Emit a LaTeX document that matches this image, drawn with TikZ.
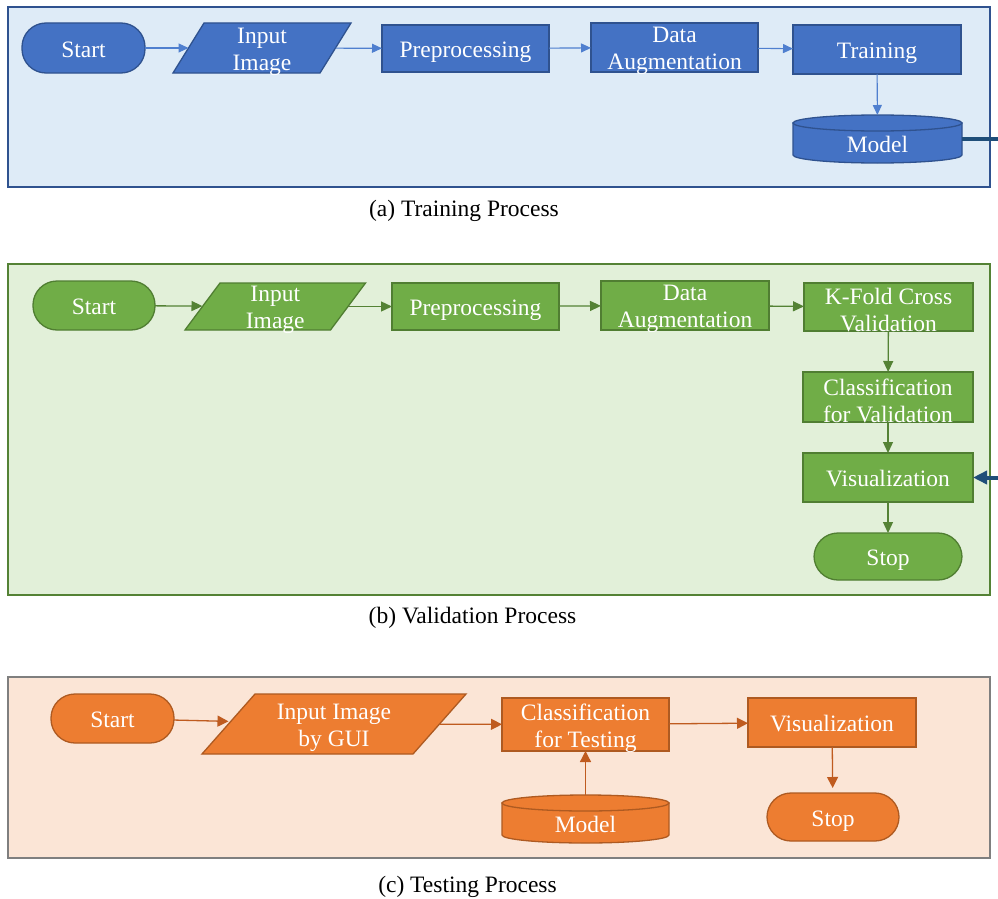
\documentclass[tikz,border=0pt]{standalone}
\usepackage{fontspec}
\setmainfont{Liberation Serif}
\usetikzlibrary{arrows.meta,calc}
\definecolor{bfill}{HTML}{4472C4}
\definecolor{bline}{HTML}{2F528F}
\definecolor{bpan}{HTML}{DEEBF7}
\definecolor{barr}{HTML}{4F7FCF}
\definecolor{gfill}{HTML}{70AD47}
\definecolor{gline}{HTML}{507E32}
\definecolor{gpan}{HTML}{E2F0D9}
\definecolor{garr}{HTML}{548235}
\definecolor{ofill}{HTML}{ED7D31}
\definecolor{oline}{HTML}{AE5A21}
\definecolor{opan}{HTML}{FBE5D6}
\definecolor{oarr}{HTML}{BF5B1F}
\definecolor{pgray}{HTML}{7F7F7F}
\definecolor{thkc}{HTML}{1F4E79}
\begin{document}
\begin{tikzpicture}[x=1pt,y=-1pt,
  lbl/.style={font=\fontsize{23.5}{27}\selectfont, text=white, align=center, inner sep=0pt, text height=22pt, text depth=4pt},
  lbltwo/.style={font=\fontsize{23.5}{27}\selectfont, text=white, align=center, inner sep=0pt, yshift=-3.5pt},
  captxt/.style={font=\fontsize{23.5}{27}\selectfont, text=black, inner sep=0pt, anchor=base},
  nd/.style={inner sep=0pt, outer sep=0pt, line width=1.3pt},
  blu/.style={nd, fill=bfill, draw=bline},
  grn/.style={nd, fill=gfill, draw=gline},
  org/.style={nd, fill=ofill, draw=oline},
  stad/.style={rounded corners=24pt},
  sz/.style 2 args={minimum width=#1, minimum height=#2},
  ghost/.style 2 args={inner sep=0pt, outer sep=0pt, minimum width=#1, minimum height=#2},
  txt/.style={label={[lbl]center:{#1}}},
  txttwo/.style={label={[lbltwo]center:{#1}}},
  arA/.style={draw=barr, line width=1.1pt, -{Triangle[length=10pt,width=9pt]}},
  arB/.style={draw=garr, line width=1.3pt, -{Triangle[length=11pt,width=10pt]}},
  arC/.style={draw=oarr, line width=1.3pt, -{Triangle[length=11pt,width=11pt]}},
  thk/.style={draw=thkc, line width=4pt},
  panA/.style={fill=bpan, draw=bline, line width=1.5pt},
  panB/.style={fill=gpan, draw=garr, line width=1.5pt},
  panC/.style={fill=opan, draw=pgray, line width=1.5pt}
]
\useasboundingbox (0,0) rectangle (998,899);
% ---------------- panel (a)
\draw[panA] (8,7) rectangle (990,187);
\node[blu, stad, sz={123}{50}, txt=Start] (sa) at (83.5,48) {};
\node[ghost={147}{50}] (ia) at (262,48) {};
\path[blu] ($(ia.north west)+(15.5,0)$) -- ($(ia.north east)+(15.5,0)$) -- ($(ia.south east)+(-15.5,0)$) -- ($(ia.south west)+(-15.5,0)$) -- cycle;
\node[lbltwo] (ia-t) at (ia) {Input\\Image};
\node[blu, sz={167}{47}, txt=Preprocessing] (pa) at (465.5,48.5) {};
\node[blu, sz={167}{49}, txttwo={Data\\Augmentation}] (da) at (674.5,47.5) {};
\node[blu, sz={168}{49}, txt=Training] (ta) at (877,49.5) {};
\node[ghost={169}{48}] (ma) at (877.5,139) {};
\path[blu] ($(ma.north west)+(0,8)$) -- ($(ma.south west)+(0,-8)$) arc[start angle=180,end angle=360,x radius=84.5pt,y radius=8pt] -- ($(ma.north east)+(0,8)$) -- cycle;
\path[blu] ($(ma.north)+(0,8)$) ellipse[x radius=84.5pt,y radius=8pt];
\node[lbl] (ma-t) at ($(ma.center)+(0,4)$) {Model};
\draw[arA] (sa) -- (ia);
\draw[arA] (ia) -- (pa);
\draw[arA] (pa) -- (da);
\draw[arA] (da) -- (ta);
\draw[arA] (ta) -- (ma);
\coordinate (oa) at (998,139);
\draw[thk] (ma.east) -- (oa);
\node[captxt] (capa) at (464,216) {(a) Training Process};
% ---------------- panel (b)
\draw[panB] (8,264) rectangle (990,595);
\node[grn, stad, sz={122}{49}, txt=Start] (sb) at (94,305.5) {};
\node[ghost={145.5}{47}] (ib) at (275.25,306.5) {};
\path[grn] ($(ib.north west)+(17.5,0)$) -- ($(ib.north east)+(17.5,0)$) -- ($(ib.south east)+(-17.5,0)$) -- ($(ib.south west)+(-17.5,0)$) -- cycle;
\node[lbltwo] (ib-t) at (ib) {Input\\Image};
\node[grn, sz={167}{47}, txt=Preprocessing] (pb) at (475.5,306.5) {};
\node[grn, sz={168}{49}, txttwo={Data\\Augmentation}] (db) at (685,305.5) {};
\node[grn, sz={169}{48}, txttwo={K-Fold Cross\\Validation}] (kb) at (888.5,307) {};
\node[grn, sz={170}{50}, txttwo={Classification\\for Validation}] (cb) at (888,397) {};
\node[grn, sz={170}{49}, txt=Visualization] (vb) at (888,477.5) {};
\node[grn, stad, sz={148}{47}, txt=Stop] (tb) at (888,556.5) {};
\draw[arB] (sb) -- (ib);
\draw[arB] (ib) -- (pb);
\draw[arB] (pb) -- (db);
\draw[arB] (db) -- (kb);
\draw[arB] (kb) -- (cb);
\draw[arB] (cb) -- (vb);
\draw[arB] (vb) -- (tb);
\coordinate (ob) at (998,477.5);
\draw[thk, -{Triangle[length=14pt,width=13pt]}] (ob) -- (vb.east);
\node[captxt] (capb) at (472.5,623) {(b) Validation Process};
% ---------------- panel (c)
\draw[panC] (8,677) rectangle (990,858);
\node[org, stad, sz={123}{49}, txt=Start] (sc) at (112.5,718.5) {};
\node[ghost={211}{60}] (ic) at (334,724) {};
\path[org] ($(ic.north west)+(26.5,0)$) -- ($(ic.north east)+(26.5,0)$) -- ($(ic.south east)+(-26.5,0)$) -- ($(ic.south west)+(-26.5,0)$) -- cycle;
\node[lbltwo] (ic-t) at (ic) {Input Image\\by GUI};
\node[org, sz={167}{53}, txttwo={Classification\\for Testing}] (cc) at (585.5,724.5) {};
\node[org, sz={168}{49}, txt=Visualization] (vc) at (832,722.5) {};
\node[ghost={167}{48}] (mc) at (585.5,819) {};
\path[org] ($(mc.north west)+(0,8)$) -- ($(mc.south west)+(0,-8)$) arc[start angle=180,end angle=360,x radius=83.5pt,y radius=8pt] -- ($(mc.north east)+(0,8)$) -- cycle;
\path[org] ($(mc.north)+(0,8)$) ellipse[x radius=83.5pt,y radius=8pt];
\node[lbl] (mc-t) at ($(mc.center)+(0,4)$) {Model};
\node[org, stad, sz={132}{48}, txt=Stop] (tc) at (833,817) {};
\draw[arC] (sc) -- (ic);
\draw[arC] (ic) -- (cc);
\draw[arC] (cc) -- (vc);
\draw[arC] (mc) -- (cc);
\draw[arC, shorten >=5pt] (vc) -- (tc);
\node[captxt] (capc) at (467.5,892) {(c) Testing Process};
\end{tikzpicture}
\end{document}
